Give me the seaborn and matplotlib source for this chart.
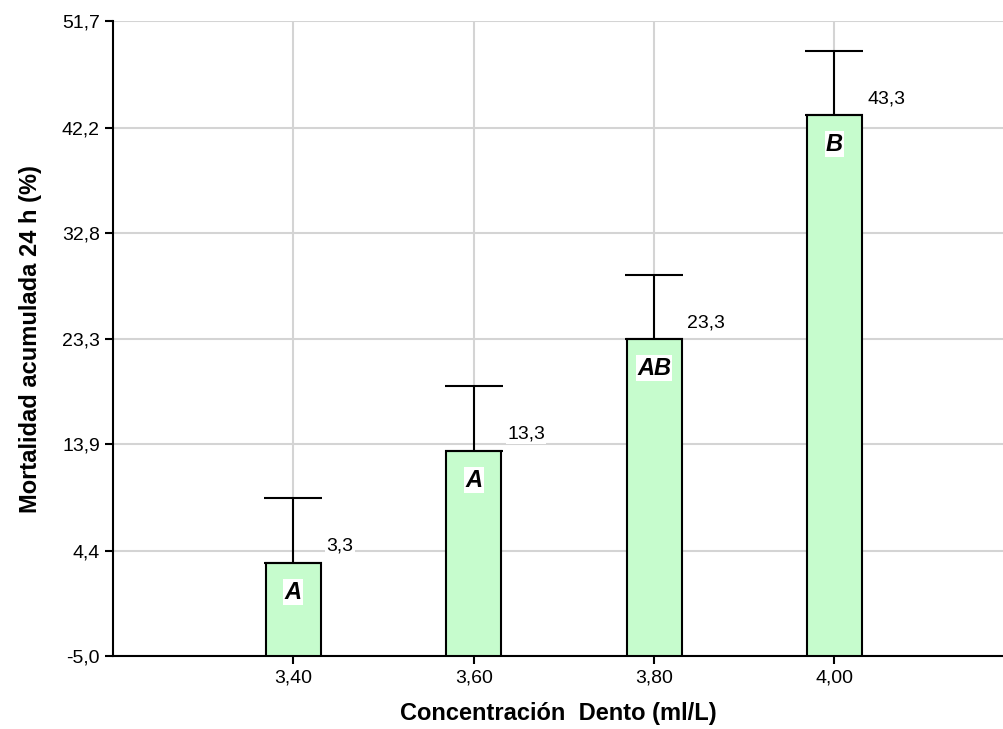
import numpy as np
import pandas as pd
import matplotlib
matplotlib.use("Agg")
import matplotlib.pyplot as plt
import seaborn as sns

# Data
conc = ["3,40", "3,60", "3,80", "4,00"]
mortality = [3.3, 13.3, 23.3, 43.3]
err_up = [5.8, 5.8, 5.7, 5.7]
groups = ["A", "A", "AB", "B"]
value_labels = ["3,3", "13,3", "23,3", "43,3"]
yticks = [-5.0, 4.4, 13.9, 23.3, 32.8, 42.2, 51.7]
ytick_labels = ["-5,0", "4,4", "13,9", "23,3", "32,8", "42,2", "51,7"]

df = pd.DataFrame({"conc": conc, "mort": mortality})

sns.set_style("white")
plt.rcParams["font.family"] = ["Liberation Sans", "DejaVu Sans"]
plt.rcParams["text.color"] = "black"
plt.rcParams["axes.labelcolor"] = "black"
plt.rcParams["xtick.color"] = "black"
plt.rcParams["ytick.color"] = "black"

fig = plt.figure(figsize=(10.04, 7.29), dpi=100)
ax = fig.add_axes([0.1125, 0.100, 0.8875, 0.871])

sns.barplot(data=df, x="conc", y="mort", color="#c6fccd", edgecolor="black",
            linewidth=1.5, width=0.305, saturation=1, ax=ax, zorder=3)

# bars start at the bottom of the axis (-5)
ymin = yticks[0]
for p in ax.patches:
    top = p.get_y() + p.get_height()
    p.set_y(ymin)
    p.set_height(top - ymin)

xpos = np.arange(len(conc))
ax.errorbar(xpos, mortality, yerr=[np.zeros(len(err_up)), err_up], fmt="none",
            ecolor="black", elinewidth=1.5, capsize=21, capthick=1.5, zorder=4)

for i in range(len(conc)):
    ax.annotate(groups[i], (xpos[i], mortality[i]), xytext=(0, -21),
                textcoords="offset points", ha="center", va="center",
                fontsize=17, fontweight="bold", fontstyle="italic", color="black",
                bbox=dict(facecolor="white", edgecolor="none", pad=1), zorder=5)
    ax.annotate(value_labels[i], (xpos[i], mortality[i]), xytext=(24, 12),
                textcoords="offset points", ha="left", va="center",
                fontsize=14, color="black",
                bbox=dict(facecolor="white", edgecolor="none", pad=1), zorder=5)

ax.set_ylim(yticks[0], yticks[-1])
ax.set_xlim(-1.0, 3.94)
ax.set_yticks(yticks)
ax.set_yticklabels(ytick_labels)
ax.tick_params(axis="both", labelsize=14, length=6, width=1.5, colors="black",
               direction="out", bottom=True, left=True)
ax.grid(True, color="#d4d4d4", linewidth=1.5, zorder=0)
ax.set_axisbelow(True)
for s in ["top", "right"]:
    ax.spines[s].set_visible(False)
for s in ["left", "bottom"]:
    ax.spines[s].set_color("black")
    ax.spines[s].set_linewidth(1.5)

ax.set_xlabel("Concentración  Dento (ml/L)", fontsize=17, fontweight="bold", labelpad=11)
ax.set_ylabel("Mortalidad acumulada 24 h (%)", fontsize=17, fontweight="bold", labelpad=14)

fig.savefig("out.png", dpi=100)
